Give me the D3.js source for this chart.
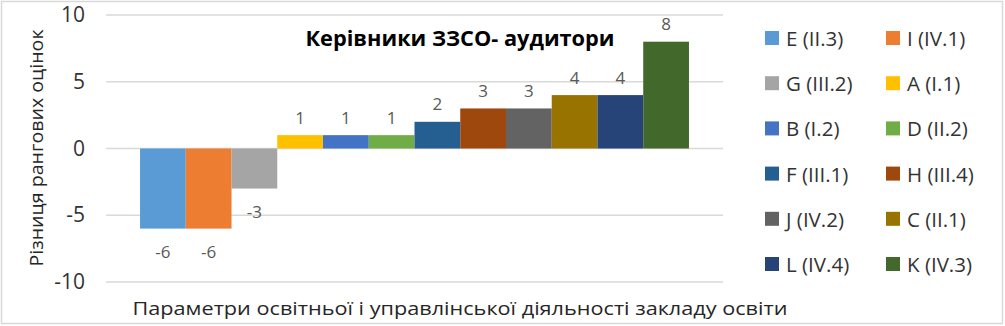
<!DOCTYPE html>
<html>
<head>
<meta charset="utf-8">
<script src="https://cdn.jsdelivr.net/npm/d3@7"></script>
<style>
  html, body { margin: 0; padding: 0; background: #fff; }
  svg { display: block; }
  text { font-family: "Open Sans", Lato, sans-serif; }
</style>
</head>
<body>
<svg id="chart" width="1005" height="326"></svg>
<script>
// ---- data ----
const seriesNames = ["E (II.3)", "I (IV.1)", "G (III.2)", "A (I.1)", "B (I.2)", "D (II.2)",
                     "F (III.1)", "H (III.4)", "J (IV.2)", "C (II.1)", "L (IV.4)", "K (IV.3)"];
const seriesValues = [-6, -6, -3, 1, 1, 1, 2, 3, 3, 4, 4, 8];
const seriesColors = ["#5B9BD5", "#ED7D31", "#A5A5A5", "#FFC000", "#4472C4", "#70AD47",
                      "#255E91", "#9E480E", "#636363", "#997300", "#264478", "#43682B"];
const yTicks = [-10, -5, 0, 5, 10];
const chartTitle = "Керівники ЗЗСО- аудитори";
const xTitle = "Параметри освітньої і управлінської діяльності закладу освіти";
const yTitle = "Різниця рангових оцінок";

// ---- layout ----
const W = 1005, H = 326;
const plot = { left: 106, right: 723, top: 15, bottom: 282 };
const svg = d3.select("#chart");

// outer border
svg.append("rect").attr("x", 1.5).attr("y", 1.5).attr("width", W - 4).attr("height", H - 4)
  .attr("fill", "#fff").attr("stroke", "#d9d9d9").attr("stroke-width", 1.5);

const y = d3.scaleLinear().domain([-10, 10]).range([plot.bottom, plot.top]);
// one category holding 12 series
const x0 = d3.scaleBand().domain(["cat"]).range([plot.left, plot.right]).paddingOuter(0.062).paddingInner(0);
const x = d3.scaleBand().domain(seriesNames).range([x0("cat"), x0("cat") + x0.bandwidth()]).padding(0);

// gridlines
svg.append("g").selectAll("line").data(yTicks).join("line")
  .attr("x1", plot.left).attr("x2", plot.right)
  .attr("y1", d => y(d)).attr("y2", d => y(d))
  .attr("stroke", "#d9d9d9").attr("stroke-width", 1.5);

// y tick labels
const yAxis = d3.axisLeft(y).tickValues(yTicks).tickSize(0).tickPadding(0).tickFormat(d => String(d));
const yg = svg.append("g").attr("transform", `translate(${85},0)`).call(yAxis);
yg.select(".domain").remove();
yg.selectAll("text").attr("font-size", 21).attr("fill", "#333333")
  .attr("font-family", "'Open Sans', sans-serif");

// bars
const data = seriesNames.map((n, i) => ({ name: n, value: seriesValues[i], color: seriesColors[i] }));
svg.append("g").selectAll("rect").data(data).join("rect")
  .attr("x", d => x(d.name))
  .attr("width", x.bandwidth())
  .attr("y", d => y(Math.max(0, d.value)))
  .attr("height", d => Math.abs(y(d.value) - y(0)))
  .attr("fill", d => d.color);

// data labels
svg.append("g").selectAll("text").data(data).join("text")
  .attr("x", d => x(d.name) + x.bandwidth() / 2)
  .attr("y", d => d.value >= 0 ? y(d.value) - 18 : y(d.value) + 23)
  .attr("text-anchor", "middle").attr("dominant-baseline", "central")
  .attr("font-size", 17).attr("fill", "#595959")
  .text(d => d.value);

// chart title
svg.append("text").attr("x", 460).attr("y", 37)
  .attr("text-anchor", "middle").attr("dominant-baseline", "central")
  .attr("font-size", 21.5).attr("font-weight", "bold").attr("fill", "#000")
  .attr("textLength", 309).attr("lengthAdjust", "spacingAndGlyphs")
  .text(chartTitle);

// x axis title
svg.append("text").attr("x", 460).attr("y", 308)
  .attr("text-anchor", "middle").attr("dominant-baseline", "central")
  .attr("font-size", 19).attr("fill", "#262626")
  .attr("textLength", 655).attr("lengthAdjust", "spacingAndGlyphs")
  .text(xTitle);

// y axis title
svg.append("text").attr("transform", `translate(36,${148}) rotate(-90)`)
  .attr("text-anchor", "middle").attr("dominant-baseline", "central")
  .attr("font-size", 19).attr("fill", "#262626")
  .attr("textLength", 237).attr("lengthAdjust", "spacingAndGlyphs")
  .text(yTitle);

// legend: 2 columns, 6 rows
const legCols = [765, 886];
const legRow0 = 38, legRowStep = 45.2;
const leg = svg.append("g").selectAll("g").data(data).join("g")
  .attr("transform", (d, i) => `translate(${legCols[i % 2]},${legRow0 + Math.floor(i / 2) * legRowStep})`);
leg.append("rect").attr("x", 0).attr("y", -7).attr("width", 14).attr("height", 14)
  .attr("fill", d => d.color);
leg.append("text").attr("x", 21).attr("y", 0).attr("dominant-baseline", "central")
  .attr("font-size", 20.5).attr("fill", "#333333")
  .text(d => d.name);
</script>
</body>
</html>
